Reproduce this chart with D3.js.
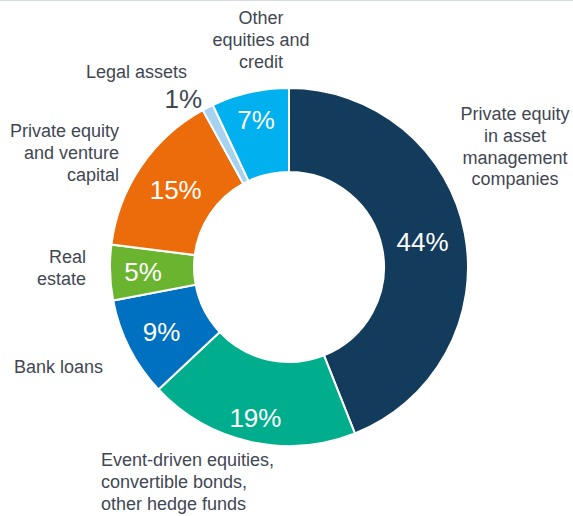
<!DOCTYPE html>
<html>
<head>
<meta charset="utf-8">
<script src="https://cdn.jsdelivr.net/npm/d3@7"></script>
<style>
  body { margin: 0; background: #fff; }
  svg { display: block; font-family: "Liberation Sans", Arial, sans-serif; }
</style>
</head>
<body>
<svg id="chart" width="573" height="516"></svg>
<script>
// data, clockwise from 12 o'clock
let categories = ["Private equity in asset management companies", "Event-driven equities, convertible bonds, other hedge funds",
  "Bank loans", "Real estate", "Private equity and venture capital", "Legal assets", "Other equities and credit"];
let shares = [44, 19, 9, 5, 15, 1, 7];
let pctLabels = ["44%", "19%", "9%", "5%", "15%", "1%", "7%"];
let sliceColors = ["#123b5c", "#00ae8d", "#0070c0", "#6bb42f", "#ec6c0b", "#a6d1ef", "#00b0ef"];

let textColor = "#3f4753";
let cx = 289, cy = 267;
let outerR = 179, innerR = 95;

// hand-placed label bits (as in the source chart)
let pctRadius = [136, 154, 143, 146, 137, null, 151];
let outerLabels = [
  {lines: ["Private equity", "in asset", "management", "companies"], x: 515, y: 120, anchor: "middle"},
  {lines: ["Event-driven equities,", "convertible bonds,", "other hedge funds"], x: 101, y: 466, anchor: "start"},
  {lines: ["Bank loans"], x: 14, y: 373, anchor: "start"},
  {lines: ["Real", "estate"], x: 86, y: 263, anchor: "end"},
  {lines: ["Private equity", "and venture", "capital"], x: 119, y: 137, anchor: "end"},
  {lines: ["Legal assets"], x: 187, y: 78, anchor: "end"},
  {lines: ["Other", "equities and", "credit"], x: 261, y: 24, anchor: "middle"}
];

let svg = d3.select("#chart");

svg.append("line")
  .attr("x1", 0).attr("x2", 573)
  .attr("y1", 0.5).attr("y2", 0.5)
  .style("stroke", "#d5dbe1")
  .style("stroke-width", 1);

let pie = d3.pie().sort(null).value(d => d);
let arcs = pie(shares);
let arc = d3.arc().innerRadius(innerR).outerRadius(outerR);

let g = svg.append("g").attr("transform", `translate(${cx},${cy})`);

g.selectAll(".slice")
  .data(arcs)
  .enter()
  .append("path")
    .attr("class", "slice")
    .attr("d", arc)
    .style("fill", (d, i) => sliceColors[i])
    .style("stroke", "#fff")
    .style("stroke-width", 2);

// percentages inside the ring
g.selectAll(".pct")
  .data(arcs.filter((d, i) => pctRadius[i] != null))
  .enter()
  .append("text")
    .attr("class", "pct")
    .attr("transform", d => {
      let r = pctRadius[d.index];
      let c = d3.arc().innerRadius(r).outerRadius(r).centroid(d);
      return `translate(${c[0]},${c[1]})`;
    })
    .attr("dy", "0.36em")
    .text(d => pctLabels[d.index])
    .style("text-anchor", "middle")
    .style("font-size", "26px")
    .style("fill", "#fff");

// the 1% sits outside its thin slice
svg.append("text")
  .attr("x", 202)
  .attr("y", 108)
  .text(pctLabels[5])
  .style("text-anchor", "end")
  .style("font-size", "26px")
  .style("fill", textColor);

// category labels
outerLabels.forEach((lab, i) => {
  let t = svg.append("text")
    .attr("x", lab.x)
    .attr("y", lab.y)
    .style("text-anchor", lab.anchor)
    .style("font-size", "18px")
    .style("fill", textColor);
  lab.lines.forEach((ln, j) => {
    t.append("tspan")
      .attr("x", lab.x)
      .attr("dy", j == 0 ? 0 : 21.8)
      .text(ln);
  });
});
</script>
</body>
</html>
